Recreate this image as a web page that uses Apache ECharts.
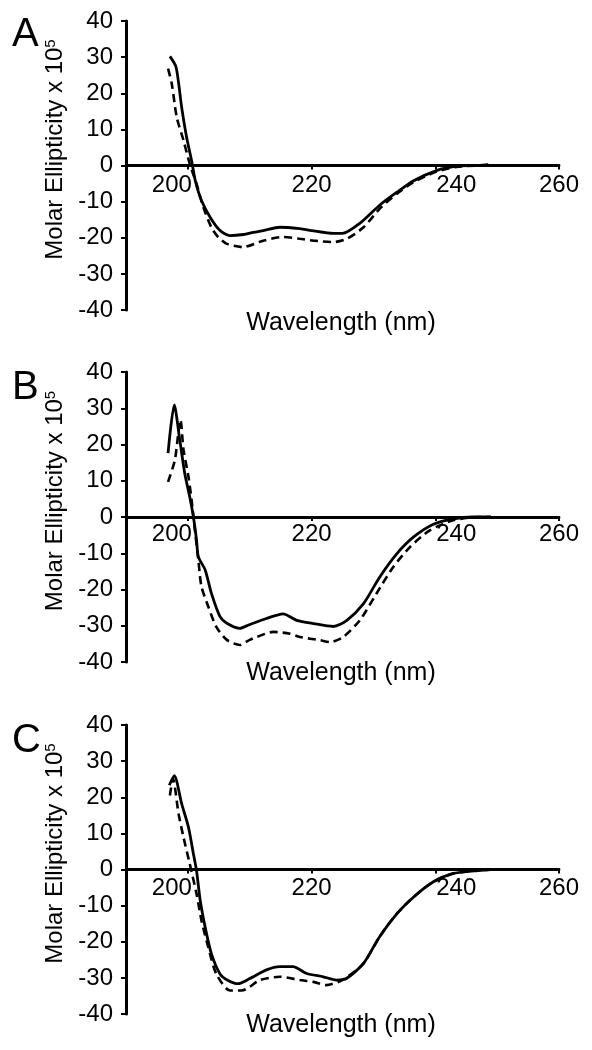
<!DOCTYPE html>
<html>
<head>
<meta charset="utf-8">
<script src="https://cdn.jsdelivr.net/npm/echarts@6/dist/echarts.min.js"></script>
<style>
html,body{margin:0;padding:0;background:#fff;}
#chart{width:592px;height:1050px;}
</style>
</head>
<body>
<div id="chart"></div>
<script>
// ---- Data (wavelength in nm, molar ellipticity x 10^5) ----
const panelLabels = ['A', 'B', 'C'];
const xTickValues = [200, 220, 240, 260];
const yTickValues = [-40, -30, -20, -10, 0, 10, 20, 30, 40];
const xTitle = 'Wavelength (nm)';
const yTitle = 'Molar Ellipticity x 10';
const yTitleSup = '5';

const aSolidX = [197.1, 198.1, 199.0, 199.8, 200.6, 201.2, 202.2, 203.6, 205.2, 206.8, 209.0, 210.6, 212.2, 214.9, 218.1, 220.0, 223.5, 225.0, 227.8, 231.0, 233.8, 236.5, 240.2, 243.4, 246.0, 248.5];
const aSolidY = [30.2, 27.2, 16.1, 7.8, 1.4, -4.2, -9.7, -14.3, -18.0, -19.4, -19.1, -18.5, -18.0, -17.1, -17.5, -18.0, -18.8, -18.8, -16.0, -11.0, -7.4, -4.2, -1.4, -0.2, 0.0, 0.1];
const aDashX = [196.8, 197.4, 198.2, 199.3, 200.3, 201.4, 202.5, 203.8, 204.9, 206.3, 208.9, 212.2, 215.4, 218.1, 220.3, 223.5, 225.7, 228.4, 231.0, 233.8, 236.5, 240.2, 243.4, 247.0, 249.0];
const aDashY = [26.8, 22.6, 13.4, 6.9, 0.5, -5.1, -11.5, -17.1, -19.8, -21.7, -22.6, -20.8, -19.8, -20.3, -20.8, -21.2, -20.3, -17.1, -12.0, -7.8, -4.6, -1.7, -0.4, 0.0, 0.3];

const bSolidX = [196.8, 197.8, 198.7, 199.5, 200.3, 200.9, 201.4, 201.7, 202.8, 203.8, 205.2, 206.3, 208.4, 209.8, 212.7, 215.4, 217.6, 220.3, 223.5, 225.7, 228.4, 231.0, 233.8, 236.5, 239.7, 242.9, 246.1, 249.0];
const bSolidY = [17.6, 30.9, 21.2, 12.0, 5.6, 0.0, -6.3, -11.0, -14.6, -21.0, -27.5, -29.3, -30.7, -29.8, -28.0, -26.7, -28.5, -29.4, -30.2, -28.5, -23.9, -16.6, -10.1, -5.5, -2.0, -0.5, 0.0, 0.0];
const bDashX = [196.8, 197.9, 198.8, 199.3, 200.1, 200.6, 201.2, 201.7, 202.2, 203.3, 204.6, 206.3, 208.4, 210.0, 211.1, 213.8, 216.5, 218.1, 221.4, 223.0, 225.1, 227.8, 230.5, 233.2, 235.9, 239.1, 242.9, 247.2, 249.0];
const bDashY = [9.7, 15.7, 26.8, 18.5, 11.1, 4.7, -4.5, -11.9, -19.2, -24.7, -30.3, -33.9, -35.3, -33.9, -33.1, -31.7, -32.2, -33.1, -34.0, -34.5, -33.1, -28.5, -21.1, -13.8, -8.3, -3.7, -0.9, 0.0, 0.0];

const cSolidX = [197.0, 197.8, 199.0, 200.1, 200.9, 201.4, 202.0, 202.8, 203.8, 205.2, 206.5, 208.1, 210.0, 212.7, 214.9, 217.0, 219.2, 221.9, 224.0, 225.7, 228.4, 231.0, 233.8, 236.5, 239.7, 242.9, 246.1, 249.0];
const cSolidY = [23.3, 26.0, 18.2, 11.7, 4.3, -0.3, -8.6, -16.0, -23.3, -28.9, -30.7, -31.6, -30.2, -27.8, -26.9, -26.9, -28.8, -29.7, -30.6, -30.1, -26.0, -18.6, -12.2, -7.6, -3.4, -1.1, -0.4, 0.0];
const cDashX = [197.1, 197.6, 198.5, 199.3, 200.3, 201.4, 202.2, 203.3, 204.6, 206.8, 208.7, 211.7, 214.9, 218.1, 220.3, 222.4, 224.5, 226.0, 228.4, 231.0, 233.8, 236.5, 239.7, 242.9, 246.1, 249.0];
const cDashY = [20.5, 25.1, 15.4, 8.9, 1.6, -6.7, -14.1, -21.5, -28.9, -33.5, -33.5, -30.6, -29.7, -30.6, -31.1, -32.0, -31.0, -29.5, -26.0, -18.6, -12.2, -7.6, -3.4, -1.1, -0.4, 0.0];

// ---- Helpers ----
const zip = (xs, ys) => xs.map((x, i) => [x, ys[i]]);
const FONT = '"Liberation Sans", Arial, Helvetica, sans-serif';
const FS = 24;

const panels = [
  { solid: zip(aSolidX, aSolidY), dash: zip(aDashX, aDashY), top: 21, height: 289, labelTop: 15, nameTop: 311, lblMargin: 8 },
  { solid: zip(bSolidX, bSolidY), dash: zip(bDashX, bDashY), top: 372, height: 290, labelTop: 368, nameTop: 661, lblMargin: 5 },
  { solid: zip(cSolidX, cSolidY), dash: zip(cDashX, cDashY), top: 725, height: 289, labelTop: 721, nameTop: 1013, lblMargin: 7 }
];

const grids = [], xAxes = [], yAxes = [], series = [], titles = [];
panels.forEach((p, i) => {
  grids.push({ left: 126, width: 433, top: p.top, height: p.height, containLabel: false });
  xAxes.push({
    type: 'value', gridIndex: i, min: 190, max: 260, position: 'bottom',
    offset: -p.height / 2,
    axisLine: { onZero: false, lineStyle: { color: '#000', width: 2.8 } },
    axisTick: { show: true, inside: false, length: 4, lineStyle: { color: '#000', width: 2 }, customValues: xTickValues },
    axisLabel: {
      show: true, customValues: xTickValues, margin: p.lblMargin, color: '#000', fontSize: FS, fontFamily: FONT,
      formatter: function (v) {
        if (v === 200) return '{l|' + v + '}';
        if (v === 240) return '{r|' + v + '}';
        return '{n|' + v + '}';
      },
      rich: {
        l: { fontSize: FS, fontFamily: FONT, color: '#000', padding: [0, 32, 0, 0] },
        r: { fontSize: FS, fontFamily: FONT, color: '#000', padding: [0, 0, 0, 42] },
        n: { fontSize: FS, fontFamily: FONT, color: '#000' }
      }
    },
    splitLine: { show: false }
  });
  yAxes.push({
    type: 'value', gridIndex: i, min: -40, max: 40, interval: 10,
    name: '{m|' + yTitle + '}{s|' + yTitleSup + '}',
    nameLocation: 'middle', nameGap: 48,
    nameTextStyle: {
      padding: [0, 0, 0, 32],
      rich: {
        m: { fontSize: FS, fontFamily: FONT, color: '#000' },
        s: { fontSize: 15, fontFamily: FONT, color: '#000', verticalAlign: 'top' }
      }
    },
    axisLine: { onZero: false, lineStyle: { color: '#000', width: 3 } },
    axisTick: { show: true, inside: false, length: 5, lineStyle: { color: '#000', width: 2 } },
    axisLabel: { margin: 13, color: '#000', fontSize: FS, fontFamily: FONT },
    splitLine: { show: false }
  });
  series.push({
    type: 'line', xAxisIndex: i, yAxisIndex: i, data: p.solid, showSymbol: false, symbol: 'none',
    smooth: 0.25, lineStyle: { color: '#000', width: 2.8, type: 'solid' }, z: 3
  });
  series.push({
    type: 'line', xAxisIndex: i, yAxisIndex: i, data: p.dash, showSymbol: false, symbol: 'none',
    smooth: 0.25, lineStyle: { color: '#000', width: 2.6, type: [8, 5] }, z: 2
  });
  titles.push({
    text: panelLabels[i], left: 12, top: p.labelTop, padding: 0,
    textStyle: { fontSize: 40, fontWeight: 'normal', fontFamily: FONT, color: '#000' }
  });
  titles.push({
    text: xTitle, left: 341, top: p.nameTop, padding: 0, textAlign: 'center',
    textStyle: { fontSize: 25, fontWeight: 'normal', fontFamily: FONT, color: '#000' }
  });
});

const chart = echarts.init(document.getElementById('chart'), null, { renderer: 'canvas' });
chart.setOption({
  backgroundColor: '#fff',
  animation: false,
  title: titles,
  grid: grids,
  xAxis: xAxes,
  yAxis: yAxes,
  series: series
});
</script>
</body>
</html>
